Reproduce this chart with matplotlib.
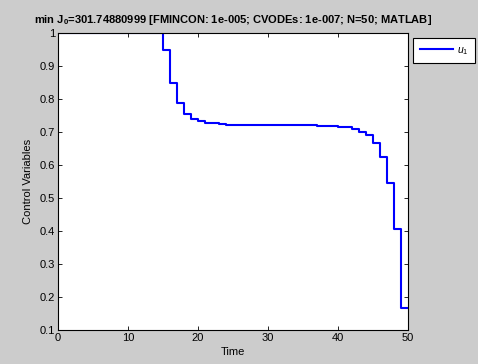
import numpy as np
import matplotlib.pyplot as plt

plt.rcParams['font.family'] = ['Liberation Sans', 'DejaVu Sans']
plt.rcParams['mathtext.fontset'] = 'custom'
plt.rcParams['mathtext.rm'] = 'Liberation Sans'
plt.rcParams['mathtext.it'] = 'Liberation Sans:italic'
plt.rcParams['mathtext.bf'] = 'Liberation Sans:bold'

# Control values on each of the N=50 unit intervals
u1 = [1.0] * 15 + [
    0.948, 0.848, 0.789, 0.755, 0.740,
    0.733, 0.727, 0.727, 0.724, 0.722,
    0.722, 0.722, 0.722, 0.722, 0.722,
    0.722, 0.720, 0.720, 0.720, 0.720,
    0.720, 0.720, 0.717, 0.717, 0.717,
    0.714, 0.714, 0.709, 0.700, 0.691,
    0.666, 0.623, 0.545, 0.405, 0.167,
]
t_edges = np.arange(0, 51)

x_ticks = [0, 10, 20, 30, 40, 50]
y_ticks = [0.1, 0.2, 0.3, 0.4, 0.5, 0.6, 0.7, 0.8, 0.9, 1.0]
y_labels = ['0.1', '0.2', '0.3', '0.4', '0.5', '0.6', '0.7', '0.8', '0.9', '1']

fig = plt.figure(figsize=(4.78, 3.64), dpi=100, facecolor='#cccccc')
ax = fig.add_axes([58 / 478, 1 - 330 / 364, 350 / 478, 297 / 364])
ax.set_facecolor('white')

# stairs plot: repeat last value so the final step reaches t=50
ax.step(t_edges, u1 + [u1[-1]], where='post', color='#0000ff', lw=1.5,
        label='$u_1$')

ax.set_xlim(0, 50)
ax.set_ylim(0.1, 1)
ax.set_xticks(x_ticks)
ax.set_yticks(y_ticks)
ax.set_yticklabels(y_labels)
ax.tick_params(direction='in', top=True, right=True, labelsize=8,
               length=3, width=0.6, pad=2)
for s in ax.spines.values():
    s.set_linewidth(0.8)

ax.set_xlabel('Time', fontsize=8, labelpad=3)
ax.set_ylabel('Control Variables', fontsize=8, labelpad=5)
ax.set_title('min J$_\\mathbf{0}$=301.74880999 [FMINCON: 1e-005; CVODEs: 1e-007; N=50; MATLAB]',
             fontsize=8, fontweight='bold', pad=7)

leg = fig.legend(loc='upper left', bbox_to_anchor=(413 / 478, 1 - 38 / 364),
                 fontsize=7.5, fancybox=False, framealpha=1, edgecolor='black',
                 borderaxespad=0, handlelength=3.2, borderpad=0.65,
                 handletextpad=0.35)
leg.get_frame().set_linewidth(0.8)

fig.savefig('out.png', dpi=100, facecolor=fig.get_facecolor())
